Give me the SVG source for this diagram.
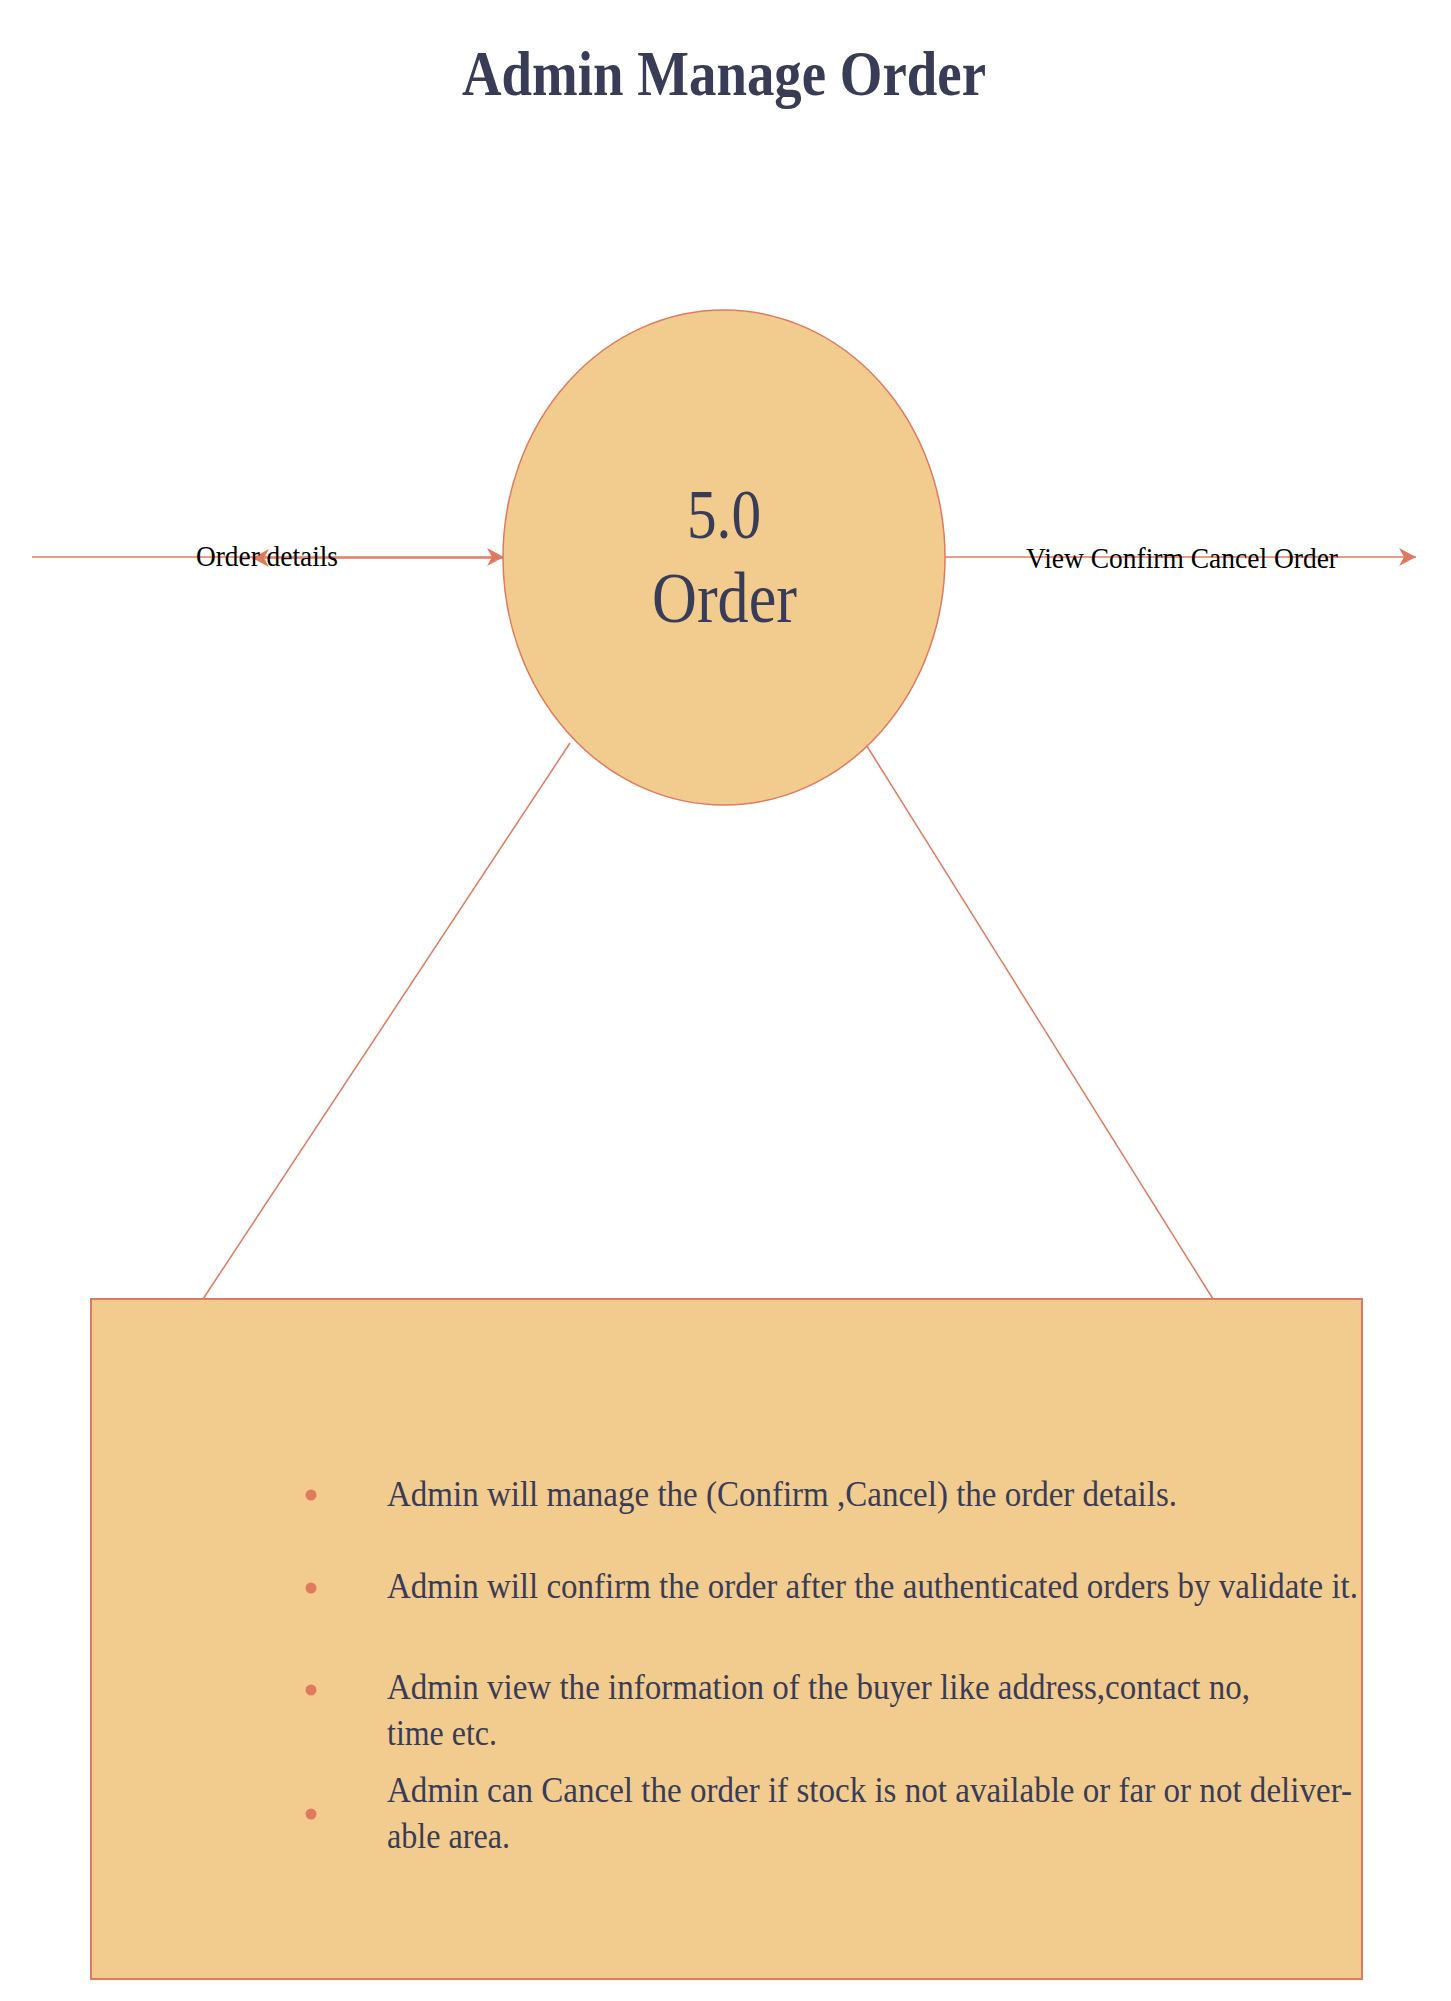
<svg xmlns="http://www.w3.org/2000/svg" width="1451" height="2001" viewBox="0 0 1451 2001">
<style>
  .shape { fill: #F2CC8F; stroke: #E07A5F; }
  .conn { stroke: #E07A5F; stroke-width: 1.5; fill: none; }
  .dark { fill: #393C56; font-family: "Liberation Serif", "Times New Roman", serif; }
  .lbl { fill: #000000; font-family: "Liberation Serif", "Times New Roman", serif; font-size: 29px; }
  .item { font-size: 36px; }
  .bullet { fill: #E07A5F; }
</style>
<defs>
  <marker id="arrow" markerUnits="userSpaceOnUse" markerWidth="18" markerHeight="18" refX="17" refY="9" orient="auto" overflow="visible">
    <path d="M0,0 L17,9 L0,18 L5,9 Z" fill="#E07A5F"/>
  </marker>
</defs>
<rect x="0" y="0" width="1451" height="2001" fill="#FFFFFF"/>

<g id="title">
  <text class="dark" x="462" y="95" font-size="63" font-weight="bold" textLength="524" lengthAdjust="spacingAndGlyphs">Admin Manage Order</text>
</g>

<g id="connectors">
  <line class="conn" x1="32" y1="557" x2="504" y2="557" marker-end="url(#arrow)"/>
  <line class="conn" x1="504" y1="558" x2="252" y2="558" stroke-width="2" marker-end="url(#arrow)"/>
  <line class="conn" x1="945" y1="557" x2="1416" y2="557" marker-end="url(#arrow)"/>
  <line class="conn" x1="570" y1="743" x2="203" y2="1299"/>
  <line class="conn" x1="865" y1="743" x2="1213" y2="1299"/>
  <text class="lbl" x="196" y="566" textLength="142" lengthAdjust="spacingAndGlyphs">Order details</text>
  <text class="lbl" x="1026" y="568" font-size="30" textLength="312" lengthAdjust="spacingAndGlyphs">View Confirm Cancel Order</text>
</g>

<g id="process-5-0">
  <ellipse class="shape" cx="724" cy="557.5" rx="221" ry="247.5" stroke-width="1.5"/>
  <text class="dark" x="724" y="538" font-size="69" text-anchor="middle" textLength="74" lengthAdjust="spacingAndGlyphs">5.0</text>
  <text class="dark" x="724.5" y="622" font-size="72" text-anchor="middle" textLength="145" lengthAdjust="spacingAndGlyphs">Order</text>
</g>

<g id="description-note">
  <rect class="shape" x="91" y="1299" width="1271" height="680" stroke-width="2"/>
  <circle class="bullet" cx="311" cy="1495" r="5.5"/>
  <circle class="bullet" cx="311" cy="1588" r="5.5"/>
  <circle class="bullet" cx="311" cy="1690" r="5.5"/>
  <circle class="bullet" cx="311" cy="1814" r="5.5"/>
  <text class="dark item" x="387" y="1506" textLength="790" lengthAdjust="spacingAndGlyphs">Admin will manage the (Confirm ,Cancel) the order details.</text>
  <text class="dark item" x="387" y="1598" textLength="971" lengthAdjust="spacingAndGlyphs">Admin will confirm the order after the authenticated orders by validate it.</text>
  <text class="dark item" x="387" y="1699" textLength="863" lengthAdjust="spacingAndGlyphs">Admin view the information of the buyer like address,contact no,</text>
  <text class="dark item" x="387" y="1745" textLength="110" lengthAdjust="spacingAndGlyphs">time etc.</text>
  <text class="dark item" x="387" y="1802" textLength="965" lengthAdjust="spacingAndGlyphs">Admin can Cancel the order if stock is not available or far or not deliver-</text>
  <text class="dark item" x="387" y="1848" textLength="123" lengthAdjust="spacingAndGlyphs">able area.</text>
</g>
</svg>
